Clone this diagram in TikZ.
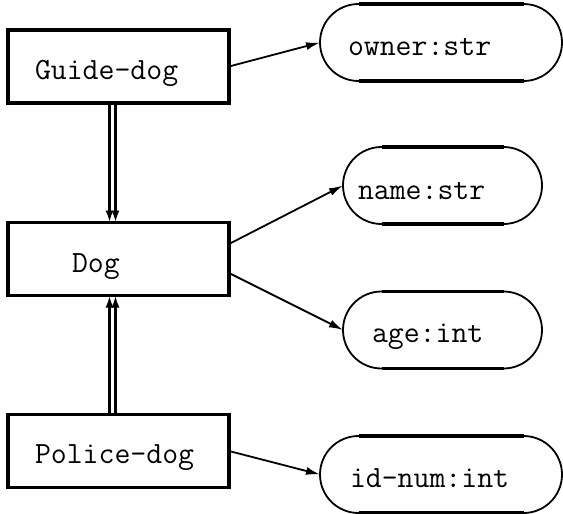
\documentclass[tikz,border=0pt]{standalone}
\usetikzlibrary{calc,arrows.meta}
\begin{document}
\begin{tikzpicture}[x=0.5pt,y=-0.5pt,
  every node/.style={outer sep=0pt,inner sep=0pt},
  cls/.style={draw,line width=1.6pt,minimum width=110.5pt,minimum height=36.5pt},
  attr/.style={draw,line width=0.9pt,rounded corners=19.25pt,minimum height=38.5pt},
  txt/.style={anchor=base west,font=\fontsize{15.45}{18}\selectfont\ttfamily},
  arr/.style={line width=0.9pt,-{Latex[length=7pt,width=4pt]}},
  inh/.style={line width=1.2pt,-{Latex[length=6pt,width=4pt]}},
  flat/.style={line width=1.6pt}]
\useasboundingbox (0,0) rectangle (563,514);
% class boxes
\node[cls] (gd) at (118.5,66.5) {};
\node[cls] (dog) at (118.5,259) {};
\node[cls] (pd) at (118.5,451) {};
\node[txt] (gdt) at (35,79) {Guide-dog};
\node[txt] (dogt) at (72,272) {Dog};
\node[txt] (pdt) at (35,463) {Police-dog};
% attribute ovals
\node[attr,minimum width=121pt] (own) at (441,42.5) {};
\node[attr,minimum width=99.5pt] (nam) at (442.5,185.5) {};
\node[attr,minimum width=99.5pt] (age) at (442.5,330) {};
\node[attr,minimum width=121pt] (idn) at (441,474.5) {};
\foreach \o in {own,nam,age,idn}{
  \draw[flat] ([xshift=19.25pt]\o.north west) -- ([xshift=-19.25pt]\o.north east);
  \draw[flat] ([xshift=19.25pt]\o.south west) -- ([xshift=-19.25pt]\o.south east);
}
\node[txt] (ownt) at (348,55) {owner:str};
\node[txt] (namt) at (358,199) {name:str};
\node[txt] (aget) at (372,342) {age:int};
\node[txt] (idnt) at (350,487) {id-num:int};
% attribute connectors
\draw[arr] (gd.east) -- (own.west);
\draw[arr] ($(dog.east)+(0,-15)$) -- (nam.west);
\draw[arr] ($(dog.east)+(0,14)$) -- (age.west);
\draw[arr] (pd.east) -- (idn.west);
% inheritance (double) connectors
\draw[inh] ($(gd.south)+(-9,0)$) -- ($(dog.north)+(-9,0)$);
\draw[inh] ($(gd.south)+(-3,0)$) -- ($(dog.north)+(-3,0)$);
\draw[inh] ($(pd.north)+(-9,0)$) -- ($(dog.south)+(-9,0)$);
\draw[inh] ($(pd.north)+(-3,0)$) -- ($(dog.south)+(-3,0)$);
\end{tikzpicture}
\end{document}
